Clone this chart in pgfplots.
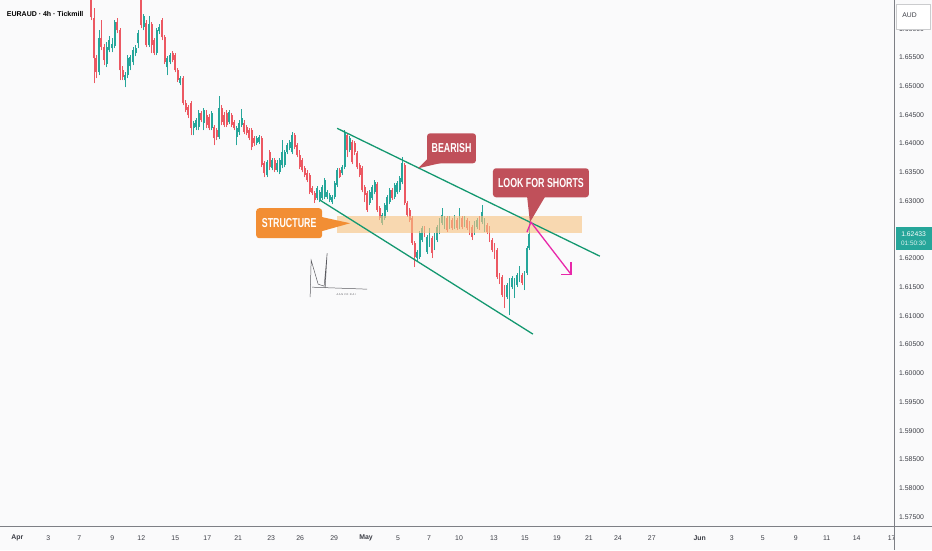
\documentclass[border=0pt]{standalone}
\usepackage{pgfplots}
\usepackage{pgfplotstable}
\pgfplotsset{compat=1.18}
\usepackage{graphicx}
\usepackage{fontspec}
\setmainfont{Liberation Sans}

\definecolor{bgcol}{RGB}{250,250,251}
\definecolor{upcol}{RGB}{38,166,154}
\definecolor{downcol}{RGB}{236,88,98}
\definecolor{chancol}{RGB}{20,152,112}
\definecolor{bandcol}{RGB}{248,196,130}
\definecolor{structcol}{RGB}{242,142,52}
\definecolor{calloutcol}{RGB}{192,80,90}
\definecolor{arrowcol}{RGB}{232,40,170}
\definecolor{tickcol}{RGB}{60,62,70}
\definecolor{linecol}{RGB}{125,127,133}
\definecolor{sigcol}{RGB}{90,90,95}

% x = horizontal position of the candle, o h l c = prices
\pgfplotstableread{
x o h l c
91 1.66630 1.66700 1.66143 1.66195
93.5 1.66178 1.66352 1.65048 1.65482
96 1.65482 1.65535 1.65134 1.65239
98.5 1.65239 1.65969 1.65187 1.65830
101 1.65830 1.66143 1.65621 1.65674
104 1.65674 1.65726 1.65361 1.65448
106.5 1.65378 1.65761 1.65326 1.65674
109 1.65621 1.65865 1.65587 1.65795
112 1.65656 1.65830 1.65587 1.65726
114.5 1.65691 1.66143 1.65656 1.66108
117 1.66108 1.66178 1.65917 1.65969
120 1.65969 1.66004 1.65100 1.65274
122.5 1.65274 1.65343 1.65100 1.65152
125 1.65100 1.65239 1.64978 1.65187
127.5 1.65187 1.65535 1.65134 1.65482
130 1.65343 1.65535 1.65274 1.65500
133 1.65413 1.65674 1.65361 1.65621
135.5 1.65569 1.65708 1.65517 1.65656
138 1.65743 1.65969 1.65656 1.65917
141 1.66665 1.66752 1.66004 1.66056
143.5 1.66021 1.66248 1.65969 1.66213
146 1.66091 1.66143 1.65674 1.65708
149 1.65708 1.66213 1.65674 1.66074
151.5 1.66074 1.66108 1.65569 1.65708
154 1.65795 1.65830 1.65535 1.65569
156.5 1.65569 1.66004 1.65535 1.65969
159 1.65952 1.66074 1.65900 1.66021
162 1.66143 1.66178 1.65795 1.65848
164.5 1.65848 1.65882 1.65378 1.65413
167 1.65326 1.65517 1.65187 1.65482
170 1.65413 1.65569 1.65378 1.65535
172.5 1.65569 1.65604 1.65413 1.65448
175 1.65535 1.65569 1.65239 1.65274
177.5 1.65274 1.65308 1.65065 1.65100
180 1.65048 1.65169 1.65013 1.65134
183 1.65134 1.65169 1.64665 1.64700
185.5 1.64700 1.64752 1.64543 1.64578
188 1.64630 1.64665 1.64439 1.64491
191 1.64700 1.64734 1.64143 1.64265
193.5 1.64265 1.64387 1.64143 1.64352
196 1.64282 1.64439 1.64230 1.64404
198.5 1.64282 1.64578 1.64230 1.64526
201 1.64526 1.64561 1.64369 1.64404
203.5 1.64352 1.64613 1.64230 1.64578
206.5 1.64491 1.64578 1.64265 1.64317
209 1.64456 1.64508 1.64230 1.64265
211.5 1.64265 1.64561 1.64230 1.64526
214 1.64282 1.64317 1.63969 1.64091
216.5 1.64230 1.64265 1.64056 1.64109
219 1.64109 1.64821 1.64074 1.64613
221.5 1.64613 1.64665 1.64317 1.64369
224 1.64491 1.64543 1.64282 1.64317
226.5 1.64526 1.64578 1.64282 1.64317
229 1.64369 1.64578 1.64334 1.64543
231.5 1.64491 1.64526 1.64282 1.64317
234 1.64369 1.64404 1.64230 1.64265
236.5 1.64109 1.64300 1.63969 1.64265
239 1.64195 1.64404 1.64143 1.64352
241.5 1.64317 1.64595 1.64282 1.64439
244 1.64352 1.64404 1.64161 1.64195
246.5 1.64282 1.64317 1.64143 1.64178
249 1.64230 1.64265 1.64056 1.64091
251.5 1.64230 1.64265 1.63882 1.63935
254 1.64091 1.64126 1.63952 1.64004
256.5 1.64004 1.64126 1.63969 1.64091
259 1.64022 1.64143 1.63987 1.64109
261.5 1.64091 1.64126 1.63587 1.63621
264 1.63656 1.63691 1.63413 1.63482
267 1.63448 1.63708 1.63413 1.63674
269.5 1.63848 1.63882 1.63534 1.63587
272 1.63569 1.63743 1.63534 1.63708
274.5 1.63708 1.63743 1.63500 1.63534
277 1.63534 1.63708 1.63500 1.63656
279.5 1.63500 1.63743 1.63465 1.63708
282 1.63621 1.64056 1.63569 1.63848
284.5 1.63621 1.63882 1.63587 1.63848
287 1.63848 1.64004 1.63813 1.63969
289.5 1.63917 1.64056 1.63882 1.64022
292 1.63848 1.64195 1.63813 1.64143
294.5 1.64143 1.64178 1.63900 1.63935
297 1.63969 1.64004 1.63761 1.63795
299.5 1.63795 1.63882 1.63552 1.63587
302 1.63708 1.63743 1.63500 1.63534
304.5 1.63569 1.63604 1.63413 1.63448
307 1.63482 1.63534 1.63326 1.63361
309.5 1.63448 1.63482 1.63117 1.63152
312 1.63221 1.63256 1.63100 1.63134
314.5 1.63134 1.63169 1.62961 1.63013
317 1.63048 1.63256 1.63013 1.63221
319.5 1.63013 1.63187 1.62978 1.63152
322 1.63048 1.63274 1.63013 1.63239
324.5 1.63065 1.63395 1.63030 1.63361
327 1.63065 1.63187 1.63030 1.63152
329.5 1.63013 1.63134 1.62978 1.63100
332 1.62978 1.63100 1.62943 1.63065
334.5 1.63065 1.63343 1.63030 1.63308
337 1.63274 1.63569 1.63239 1.63534
339.5 1.63534 1.63569 1.63395 1.63413
342 1.63482 1.63621 1.63448 1.63587
344.5 1.63587 1.64230 1.63552 1.64178
347 1.64143 1.64178 1.63761 1.63882
349.5 1.63882 1.64126 1.63848 1.64091
352 1.64022 1.64056 1.63639 1.63674
354.5 1.64004 1.64039 1.63795 1.63848
357 1.63830 1.63865 1.63552 1.63587
359.5 1.63621 1.63656 1.63413 1.63448
362 1.63569 1.63604 1.63152 1.63187
364.5 1.63239 1.63274 1.62978 1.63100
367 1.63134 1.63169 1.62804 1.62839
369.5 1.62961 1.63187 1.62926 1.63152
372 1.63048 1.63274 1.63013 1.63239
374.5 1.63152 1.63361 1.63117 1.63326
377 1.63291 1.63326 1.62804 1.62839
379.5 1.62874 1.62908 1.62665 1.62700
382 1.62613 1.62787 1.62578 1.62752
384.5 1.62700 1.62961 1.62665 1.62926
387 1.62839 1.63100 1.62804 1.63065
389.5 1.62978 1.63221 1.62943 1.63187
392 1.63187 1.63221 1.63013 1.63048
394.5 1.63065 1.63308 1.63030 1.63274
397 1.63152 1.63343 1.63117 1.63308
399.5 1.63187 1.63430 1.63152 1.63395
402 1.63326 1.63761 1.63291 1.63656
404.5 1.63621 1.63656 1.62926 1.62961
407 1.62961 1.62995 1.62717 1.62752
409.5 1.62839 1.62874 1.62630 1.62665
412 1.62700 1.62734 1.62230 1.62265
414.5 1.62265 1.62300 1.61848 1.62021
417 1.62004 1.62143 1.61935 1.62109
419.5 1.62021 1.62474 1.61987 1.62439
422 1.62317 1.62561 1.62282 1.62526
424.5 1.62526 1.62561 1.62369 1.62404
427 1.62109 1.62404 1.62074 1.62369
429.5 1.62230 1.62526 1.62195 1.62491
432 1.62352 1.62387 1.62004 1.62091
434.5 1.62178 1.62439 1.62143 1.62404
437 1.62317 1.62578 1.62282 1.62543
439.5 1.62456 1.62700 1.62421 1.62665
442 1.62613 1.62874 1.62578 1.62752
444.5 1.62543 1.62734 1.62508 1.62700
447 1.62700 1.62734 1.62456 1.62491
449.5 1.62543 1.62734 1.62508 1.62700
452 1.62665 1.62700 1.62491 1.62526
454.5 1.62543 1.62752 1.62508 1.62717
457 1.62665 1.62700 1.62491 1.62526
459.5 1.62543 1.62874 1.62508 1.62717
462 1.62700 1.62734 1.62508 1.62543
464.5 1.62578 1.62734 1.62543 1.62700
467 1.62665 1.62700 1.62491 1.62526
469.5 1.62613 1.62648 1.62404 1.62439
472 1.62543 1.62578 1.62317 1.62369
474.5 1.62439 1.62648 1.62404 1.62613
477 1.62543 1.62700 1.62508 1.62665
479.5 1.62700 1.62734 1.62491 1.62526
482 1.62630 1.62926 1.62595 1.62804
484.5 1.62491 1.62700 1.62456 1.62665
487 1.62578 1.62613 1.62421 1.62456
489.5 1.62526 1.62561 1.62282 1.62317
492 1.62317 1.62352 1.62109 1.62143
494.5 1.62230 1.62265 1.61987 1.62021
497 1.62143 1.62178 1.61639 1.61674
499.5 1.61708 1.61743 1.61552 1.61587
502 1.61674 1.61708 1.61326 1.61361
504.5 1.61500 1.61535 1.61135 1.61239
507 1.61326 1.61569 1.61291 1.61535
509.5 1.61048 1.61656 1.61013 1.61621
512 1.61500 1.61691 1.61465 1.61656
514.5 1.61326 1.61656 1.61308 1.61621
517 1.61535 1.61743 1.61500 1.61708
519.5 1.61621 1.61865 1.61587 1.61830
522 1.61708 1.61743 1.61535 1.61569
524.5 1.61482 1.61778 1.61448 1.61743
527 1.61743 1.62213 1.61708 1.62178
529.5 1.62178 1.62630 1.62143 1.62433
}\candles

\pgfplotsset{
  candle/.style n args={2}{draw=none, mark=none,
    error bars/y dir=plus, error bars/y explicit, error bars/error mark=none,
    error bars/error bar style={draw=#1, line width=#2, line cap=butt}},
}

\begin{document}
\begin{tikzpicture}[x=1pt,y=1pt]
\fill[bgcol] (0,0) rectangle (932,550);

\begin{axis}[
  at={(0pt,23pt)}, anchor=south west,
  scale only axis, width=895pt, height=527pt,
  xmin=0, xmax=895,
  ymin=1.57326, ymax=1.66491,
  axis line style={draw=none},
  major tick length=0pt,
  tick label style={font=\fontsize{6.9}{8}\selectfont, text=tickcol},
  xtick={17,48,79,112,141,175,207,238,271,300,334,366,398,429,459,494,525,557,589,618,652,700,732,763,796,827,857,892},
  xticklabels={\textbf{Apr},3,7,9,12,15,17,21,23,26,29,\textbf{May},5,7,10,13,15,19,21,24,27,\textbf{Jun},3,5,9,11,14,17},
  xticklabel style={anchor=center, yshift=-11pt},
  ytick={1.575,1.58,1.585,1.59,1.595,1.6,1.605,1.61,1.615,1.62,1.63,1.635,1.64,1.645,1.65,1.655,1.66},
  yticklabels={1.57500,1.58000,1.58500,1.59000,1.59500,1.60000,1.60500,1.61000,1.61500,1.62000,1.63000,1.63500,1.64000,1.64500,1.65000,1.65500,1.66000},
  yticklabel pos=right,
  yticklabel style={anchor=west, xshift=1pt},
]
% wicks
\addplot[candle={upcol}{0.7pt},
  restrict expr to domain={\thisrow{c}-\thisrow{o}}{0:1}]
  table[x=x, y=l, y error expr={\thisrow{h}-\thisrow{l}}] {\candles};
\addplot[candle={downcol}{0.7pt},
  restrict expr to domain={\thisrow{c}-\thisrow{o}}{-1:0}]
  table[x=x, y=l, y error expr={\thisrow{h}-\thisrow{l}}] {\candles};
% bodies
\addplot[candle={upcol}{1.9pt},
  restrict expr to domain={\thisrow{c}-\thisrow{o}}{0:1}]
  table[x=x, y=o, y error expr={\thisrow{c}-\thisrow{o}}] {\candles};
\addplot[candle={downcol}{1.9pt},
  restrict expr to domain={\thisrow{c}-\thisrow{o}}{-1:0}]
  table[x=x, y=c, y error expr={\thisrow{o}-\thisrow{c}}] {\candles};
\end{axis}

% annotations, in picture pixels (origin top left)
\begin{scope}[shift={(0pt,550pt)}, x=1pt, y=-1pt]
  \draw[linecol, line width=0.9pt] (0,527) -- (932,527);
  \draw[linecol, line width=0.9pt] (895,0) -- (895,550);

  \fill[bandcol, opacity=0.62] (337,216) rectangle (582,233);
  \draw[chancol, line width=1.3pt] (337,128) -- (600,256);
  \draw[chancol, line width=1.3pt] (320,200) -- (533,334);

  \draw[arrowcol, line width=1.3pt] (527,232) -- (531,222) -- (571,274);
  \draw[arrowcol, line width=1.3pt] (571,262) -- (571,274) -- (561,274);

  \fill[structcol, rounded corners=3pt] (256,208) rectangle (322,238);
  \fill[structcol] (318,216) -- (350,223) -- (318,232) -- cycle;
  \node[text=white] at (289,223) {\scalebox{0.68}[1]{\fontsize{13}{13}\selectfont\bfseries STRUCTURE}};

  \fill[calloutcol, rounded corners=3pt] (427,133) rectangle (476,163);
  \fill[calloutcol] (428,158) -- (418,168) -- (444,162) -- cycle;
  \node[text=white] at (451.5,148) {\scalebox{0.68}[1]{\fontsize{13}{13}\selectfont\bfseries BEARISH}};

  \fill[calloutcol, rounded corners=3pt] (493,168) rectangle (589,197);
  \fill[calloutcol] (527,195) -- (530,222) -- (546,195) -- cycle;
  \node[text=white] at (541,182.5) {\scalebox{0.68}[1]{\fontsize{13}{13}\selectfont\bfseries LOOK FOR SHORTS}};

  \draw[sigcol, line width=0.5pt] (310,297) -- (311,260) -- (318,284) -- (324,286) -- (327,253) -- (325,288);
  \draw[sigcol, line width=0.5pt] (312,287) -- (367,289);
  \node[sigcol, font=\fontsize{2.6}{3}\selectfont] at (346,294) {A A N V O \ R A I};

  \node[anchor=west, text=black, font=\bfseries\fontsize{7}{8}\selectfont] at (3,14) {EURAUD · 4h · Tickmill};

  \fill[white] (897,4) rectangle (931,29);
  \draw[linecol!40, line width=0.4pt] (897,4) rectangle (931,29);
  \node[text=tickcol, font=\fontsize{6.8}{8}\selectfont] at (910,15) {AUD};

  \fill[upcol] (896,227) rectangle (932,250);
  \node[text=white, font=\fontsize{6.8}{8}\selectfont] at (914,233.5) {1.62433};
  \node[text=white!85!upcol, font=\fontsize{6.4}{8}\selectfont] at (914,243.5) {01:50:30};
\end{scope}
\end{tikzpicture}
\end{document}
